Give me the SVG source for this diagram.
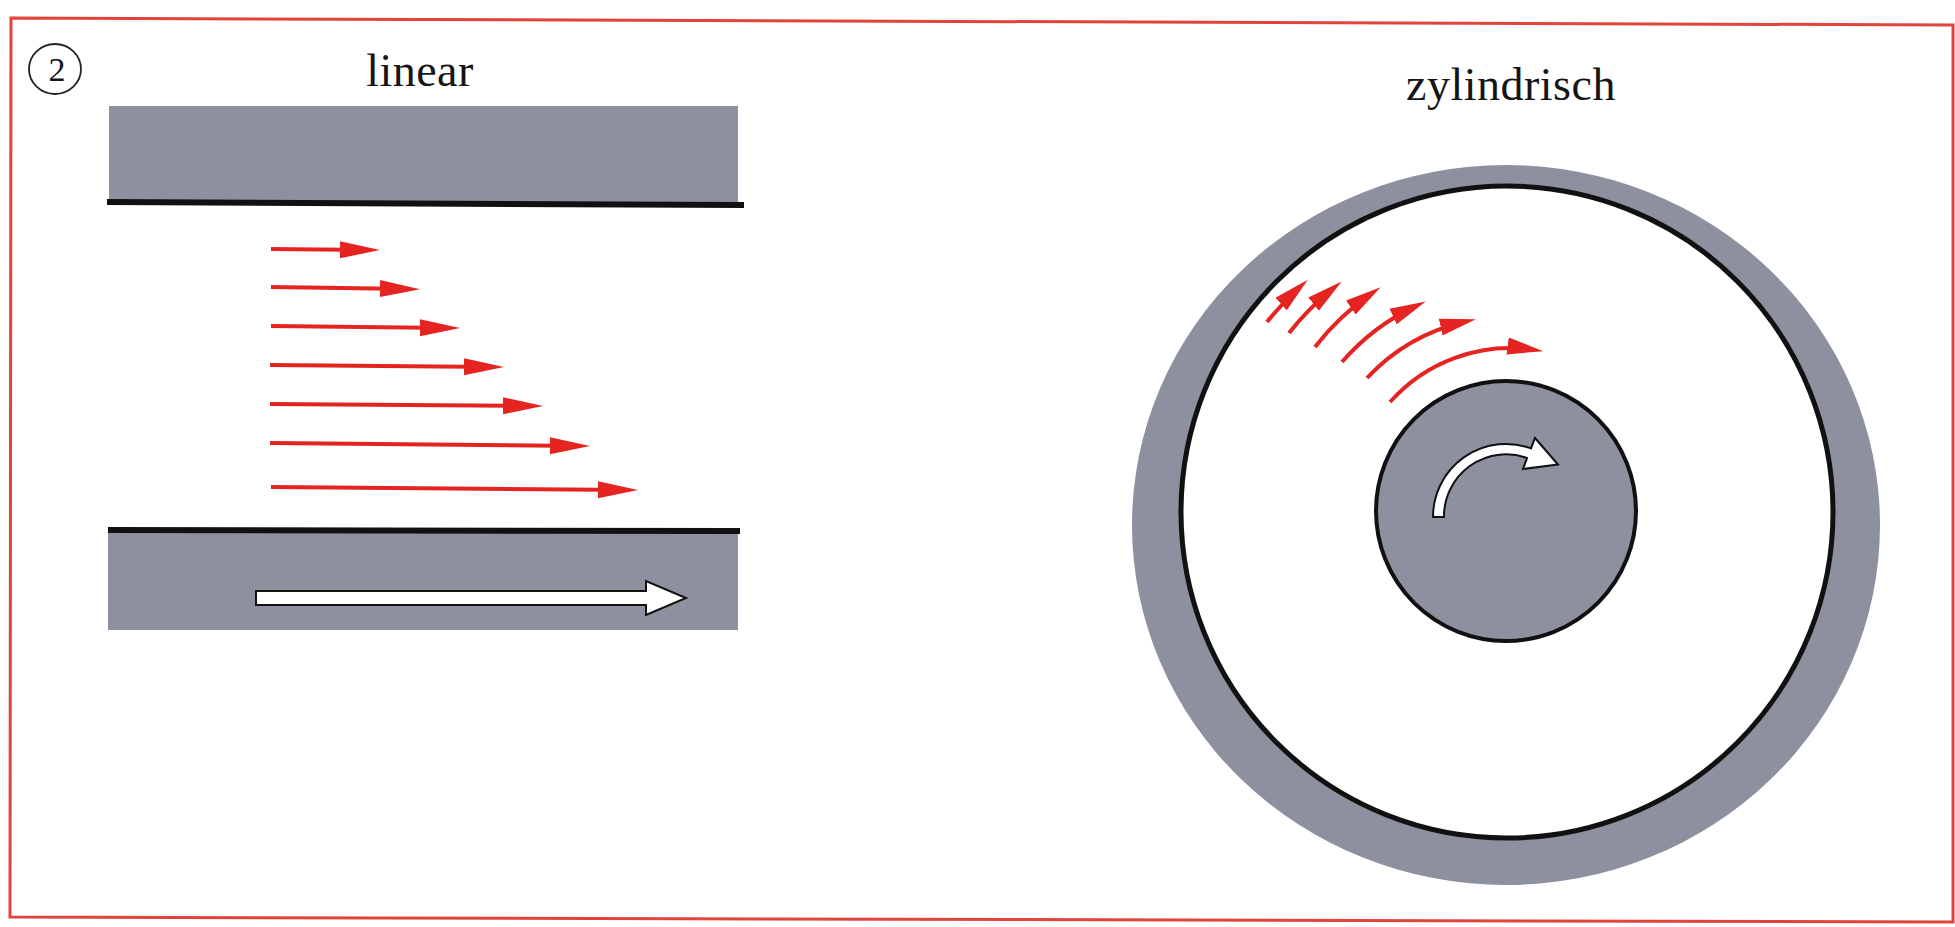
<svg xmlns="http://www.w3.org/2000/svg" width="1955" height="927" viewBox="0 0 1955 927">
  <style>
    .lbl { font-family: "Liberation Serif", "DejaVu Serif", serif; fill: #151515; }
    .plate { fill: #8d909e; }
    .edge { stroke: #111; fill: none; }
    .flow { stroke: #e52421; stroke-width: 4; fill: none; }
    .wht { fill: #ffffff; stroke: #111; stroke-width: 2; stroke-linejoin: miter; }
  </style>
  <defs>
    <marker id="redhead" markerUnits="userSpaceOnUse" viewBox="0 -9 40 18" markerWidth="40" markerHeight="18" refX="30" refY="0" orient="auto">
      <path d="M0,-8.5 L40,0 L0,8.5 Z" fill="#e52421"/>
    </marker>
    <marker id="redhead2" markerUnits="userSpaceOnUse" viewBox="0 -9 36 18" markerWidth="36" markerHeight="18" refX="26" refY="0" orient="auto">
      <path d="M0,-8.5 L36,0 L0,8.5 Z" fill="#e52421"/>
    </marker>
  </defs>
  <rect width="1955" height="927" fill="#ffffff"/>

  <g id="frame">
    <polygon points="11,18 1953,25 1953,922 10,917" fill="none" stroke="#e0443c" stroke-width="3"/>
  </g>

  <g id="badge">
    <ellipse cx="55" cy="69" rx="26" ry="25" fill="none" stroke="#222" stroke-width="1.8"/>
    <text class="lbl" x="57" y="81" font-size="34" text-anchor="middle">2</text>
  </g>

  <g id="label-linear">
    <text class="lbl" x="420" y="86" font-size="46" text-anchor="middle" letter-spacing="0.5">linear</text>
  </g>

  <g id="linear-top-plate">
    <rect class="plate" x="109" y="106" width="629" height="96"/>
    <line class="edge" x1="107" y1="202" x2="744" y2="205" stroke-width="6"/>
  </g>

  <g id="linear-bottom-plate">
    <rect class="plate" x="108" y="530" width="630" height="100"/>
    <line class="edge" x1="108" y1="530" x2="740" y2="531" stroke-width="6"/>
    <polygon class="wht" points="256,591 646,591 646,581 686,598 646,615 646,605 256,605"/>
  </g>

  <g id="connectors">
    <g id="linear-profile">
      <line class="flow" x1="271" y1="249" x2="370" y2="250" marker-end="url(#redhead)"/>
      <line class="flow" x1="271" y1="287" x2="410" y2="289" marker-end="url(#redhead)"/>
      <line class="flow" x1="271" y1="326" x2="450" y2="328" marker-end="url(#redhead)"/>
      <line class="flow" x1="270" y1="365" x2="494" y2="367" marker-end="url(#redhead)"/>
      <line class="flow" x1="270" y1="404" x2="533" y2="406" marker-end="url(#redhead)"/>
      <line class="flow" x1="270" y1="443" x2="580" y2="446" marker-end="url(#redhead)"/>
      <line class="flow" x1="271" y1="487" x2="628" y2="490" marker-end="url(#redhead)"/>
    </g>
  </g>

  <g id="label-cylinder">
    <text class="lbl" x="1511" y="100" font-size="46" text-anchor="middle" letter-spacing="0.5">zylindrisch</text>
  </g>

  <g id="cylinder-outer">
    <ellipse class="plate" cx="1506" cy="525" rx="374" ry="360"/>
    <circle cx="1507" cy="512" r="326" fill="#ffffff" stroke="#111" stroke-width="5"/>
  </g>

  <g id="cylinder-hub">
    <circle class="plate" cx="1506" cy="511" r="130" stroke="#111" stroke-width="4"/>
    <path class="wht" d="M1433,517 A73,73 0 0 1 1531,448.4 L1535,438 L1558,464.5 L1523,469 L1527,458 A62,62 0 0 0 1444,517 Z"/>
  </g>

  <g id="cylinder-profile">
    <path class="flow" d="M1267,322 A305,305 0 0 1 1300.4,286.5" marker-end="url(#redhead2)"/>
    <path class="flow" d="M1289,333 A281,281 0 0 1 1333.9,287.8" marker-end="url(#redhead2)"/>
    <path class="flow" d="M1315,347 A253,253 0 0 1 1372.3,292.9" marker-end="url(#redhead2)"/>
    <path class="flow" d="M1342,362 A223,223 0 0 1 1416.7,305.6" marker-end="url(#redhead2)"/>
    <path class="flow" d="M1367,378 A193,193 0 0 1 1466.1,321.5" marker-end="url(#redhead2)"/>
    <path class="flow" d="M1390,402 A161,161 0 0 1 1533.3,349.7" marker-end="url(#redhead2)"/>
  </g>
</svg>
